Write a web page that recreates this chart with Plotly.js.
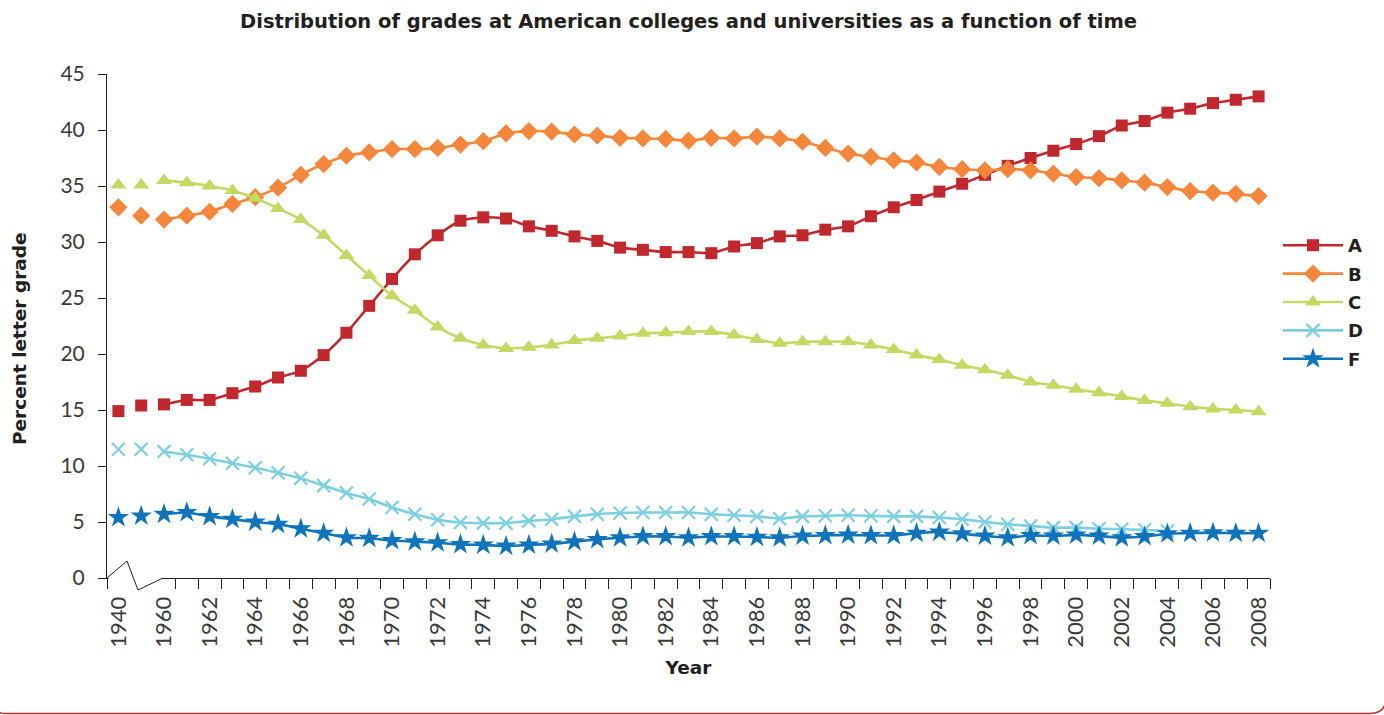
<!DOCTYPE html>
<html>
<head>
<meta charset="utf-8">
<script src="https://cdn.plot.ly/plotly-3.0.1.min.js"></script>
<style>html,body{margin:0;padding:0;background:#fff;}#chart{width:1384px;height:715px;}</style>
</head>
<body>
<div id="chart"></div>
<script>
// ---- data ----
const years = ["1940","1950","1960","1961","1962","1963","1964","1965","1966","1967","1968","1969",
  "1970","1971","1972","1973","1974","1975","1976","1977","1978","1979",
  "1980","1981","1982","1983","1984","1985","1986","1987","1988","1989",
  "1990","1991","1992","1993","1994","1995","1996","1997","1998","1999",
  "2000","2001","2002","2003","2004","2005","2006","2007","2008"];
const gradeA = [14.9,15.4,15.5,15.9,15.9,16.5,17.1,17.9,18.5,19.9,21.9,24.3,
  26.7,28.9,30.6,31.9,32.2,32.1,31.4,31.0,30.5,30.1,
  29.5,29.3,29.1,29.1,29.0,29.6,29.9,30.5,30.6,31.1,
  31.4,32.3,33.1,33.75,34.5,35.2,36.0,36.8,37.5,38.15,
  38.75,39.45,40.4,40.8,41.55,41.9,42.4,42.7,43.0];
const gradeB = [33.1,32.35,32.0,32.35,32.7,33.4,34.0,34.85,36.0,36.96,37.7,38.0,
  38.3,38.3,38.4,38.7,39.0,39.7,39.9,39.85,39.6,39.5,
  39.3,39.25,39.2,39.05,39.3,39.25,39.4,39.25,38.95,38.4,
  37.9,37.6,37.3,37.1,36.7,36.5,36.4,36.5,36.4,36.1,
  35.8,35.7,35.5,35.3,34.9,34.55,34.4,34.3,34.1];
const gradeC = [35.1,35.1,35.5,35.3,35.0,34.6,33.9,33.0,32.0,30.6,28.8,27.0,
  25.2,23.9,22.4,21.4,20.8,20.5,20.6,20.8,21.2,21.4,
  21.6,21.85,21.9,22.0,22.0,21.7,21.3,20.95,21.1,21.1,
  21.1,20.8,20.4,19.9,19.5,19.0,18.6,18.1,17.5,17.2,
  16.85,16.55,16.2,15.85,15.6,15.3,15.1,15.0,14.85];
const gradeD = [11.5,11.5,11.3,11.0,10.65,10.25,9.85,9.4,8.9,8.25,7.6,7.05,
  6.3,5.7,5.2,4.95,4.9,4.9,5.1,5.25,5.5,5.7,
  5.8,5.85,5.85,5.85,5.7,5.6,5.5,5.3,5.5,5.55,
  5.6,5.55,5.5,5.5,5.4,5.25,5.0,4.8,4.65,4.5,
  4.5,4.4,4.35,4.3,4.2,null,null,null,null];
const gradeF = [5.4,5.55,5.7,5.85,5.5,5.25,5.0,4.8,4.4,4.0,3.6,3.55,
  3.35,3.25,3.15,3.0,2.95,2.85,2.95,3.05,3.25,3.45,
  3.6,3.7,3.7,3.6,3.7,3.7,3.65,3.6,3.75,3.8,
  3.85,3.8,3.8,4.0,4.1,3.95,3.75,3.6,3.8,3.75,
  3.85,3.75,3.6,3.7,3.95,4.0,4.05,4.0,4.0];
const seriesNames = ["A","B","C","D","F"];
const tickLabels = years.map((y, i) => (i % 2 === 0 ? y : ""));

// ---- styles ----
const styles = {
  A: {color: "#C1272D", symbol: "square", size: 12},
  B: {color: "#F5863A", symbol: "diamond", size: 14},
  C: {color: "#C3D961", symbol: "triangle-up", size: 14},
  D: {color: "#7CD0E2", symbol: "x-thin", size: 13},
  F: {color: "#0F74BC", symbol: "star", size: 16}
};
const values = {A: gradeA, B: gradeB, C: gradeC, D: gradeD, F: gradeF};
const SPLIT = 2; // first points (1940, 1950) are unconnected

const traces = [];
seriesNames.forEach(name => {
  const s = styles[name];
  const marker = {color: s.color, symbol: s.symbol, size: s.size,
    line: s.symbol === "x-thin" ? {color: s.color, width: 2.2} : {width: 0}};
  traces.push({
    x: years.slice(0, SPLIT), y: values[name].slice(0, SPLIT),
    type: "scatter", mode: "markers", marker: marker,
    name: name, legendgroup: name, showlegend: false
  });
  traces.push({
    x: years.slice(SPLIT), y: values[name].slice(SPLIT),
    type: "scatter", mode: "lines+markers", marker: marker,
    line: {color: s.color, width: 2.6, shape: "spline", smoothing: 0.6},
    name: name, legendgroup: name, showlegend: true, connectgaps: false
  });
});

// ---- layout helpers (pixel -> paper) ----
const L = 107, R = 1270, T = 74, B = 578;
const px = x => (x - L) / (R - L);
const py = y => (B - y) / (B - T);
const P = (x, y) => px(x).toFixed(5) + "," + py(y).toFixed(5);

const yTickFont = {family: "Lato, 'Open Sans', sans-serif", size: 21, color: "#3a3a3a", weight: 400};
const xTickFont = {family: "Lato, 'Open Sans', sans-serif", size: 22, color: "#3a3a3a", weight: 400};
const boldFont = {family: "'DejaVu Sans', sans-serif", size: 18.5, color: "#231F20", weight: 700};

const layout = {
  width: 1384, height: 715,
  margin: {l: L, r: 1384 - R, t: T, b: 715 - B},
  paper_bgcolor: "#fff", plot_bgcolor: "#fff",
  title: {text: "Distribution of grades at American colleges and universities as a function of time",
    font: {family: "'DejaVu Sans', sans-serif", size: 19.5, color: "#231F20", weight: 700},
    x: 0.4975, xref: "container", xanchor: "center", y: 1 - 21 / 715, yref: "container", yanchor: "middle"},
  xaxis: {
    type: "category", categoryorder: "array", categoryarray: years,
    range: [-0.5, years.length - 0.5],
    tickmode: "array", tickvals: years, ticktext: tickLabels,
    tickson: "boundaries", ticks: "outside", ticklen: 10, tickwidth: 1, tickcolor: "#231F20",
    tickangle: -90, tickfont: xTickFont, ticklabelstandoff: 9,
    showline: true, linecolor: "#231F20", linewidth: 1,
    showgrid: false, zeroline: false,
    title: {text: "Year", font: boldFont, standoff: 14}
  },
  yaxis: {
    range: [0, 45], dtick: 5, tick0: 0,
    ticks: "outside", ticklen: 8, tickwidth: 1, tickcolor: "#231F20",
    tickfont: yTickFont, ticklabelstandoff: 9,
    showline: true, linecolor: "#231F20", linewidth: 1,
    showgrid: false, zeroline: false
  },
  annotations: [
    {text: "Percent letter grade", font: boldFont, textangle: -90,
     xref: "paper", yref: "paper", x: px(19), y: py(339),
     xanchor: "center", yanchor: "middle", showarrow: false}
  ],
  legend: {
    x: px(1278), xanchor: "left", y: py(227), yanchor: "top",
    font: {family: "'DejaVu Sans', sans-serif", size: 18, color: "#231F20", weight: 700},
    tracegroupgap: 2, itemwidth: 60, bgcolor: "rgba(0,0,0,0)", borderwidth: 0
  },
  shapes: [
    // mask the axis part replaced by the break mark
    {type: "rect", xref: "paper", yref: "paper", layer: "above",
     x0: px(108.5), x1: px(162), y0: py(591), y1: py(576.5),
     fillcolor: "#fff", line: {width: 0}},
    // axis break zigzag
    {type: "path", xref: "paper", yref: "paper", layer: "above",
     path: "M" + P(107, 578) + " L" + P(127, 561) + " L" + P(138, 590) + " L" + P(163, 578),
     line: {color: "#231F20", width: 1}},
    // frame bottom edge
    {type: "path", xref: "paper", yref: "paper", layer: "above",
     path: "M" + P(-8, 640) + " L" + P(-8, 700) + " Q" + P(-8, 713.5) + " " + P(6, 713.5) +
           " L" + P(1370, 713.5) + " Q" + P(1386, 713.5) + " " + P(1387, 696) + " L" + P(1388, 640),
     line: {color: "#C8282E", width: 1.5}}
  ],
  showlegend: true
};

Plotly.newPlot("chart", traces, layout, {displayModeBar: false, responsive: false});
</script>
</body>
</html>
